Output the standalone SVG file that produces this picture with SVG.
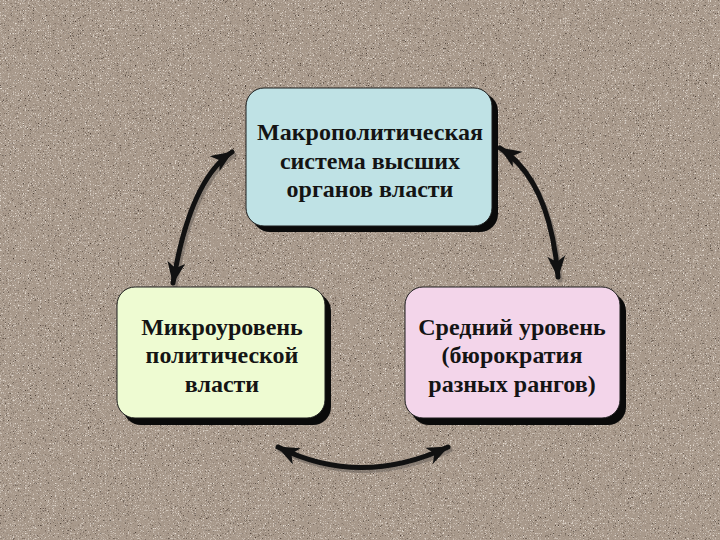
<svg xmlns="http://www.w3.org/2000/svg" width="720" height="540" viewBox="0 0 720 540">
<defs>
<style>
.box{stroke:#1a1a1a;stroke-width:1}
.shadow{fill:#0a0a0a}
.txt{font-family:"Liberation Serif","Times New Roman",serif;font-size:24px;font-weight:bold;fill:#141414;text-anchor:middle}
.arr{fill:none;stroke:#111;stroke-width:5;stroke-linecap:round;marker-start:url(#ah);marker-end:url(#ah)}
.arrsh{fill:none;stroke:#6e665f;stroke-width:5;stroke-linecap:round;opacity:0.6}
</style>
<marker id="ah" markerUnits="userSpaceOnUse" viewBox="0 0 22 18" refX="21" refY="9" markerWidth="22" markerHeight="18" orient="auto-start-reverse">
<path d="M0,0 L22,9 L0,18 L6,9 z" fill="#111"/>
</marker>
<filter id="grain" x="0" y="0" width="100%" height="100%">
<feTurbulence type="turbulence" baseFrequency="1.4" numOctaves="1" seed="5" result="n"/>
<feColorMatrix in="n" type="matrix" values="0 0 0 0 0  0 0 0 0 0  0 0 0 0 0  0 3 0 0 -0.9" result="dark"/>
<feFlood flood-color="#3a2f28" result="c1"/>
<feComposite in="c1" in2="dark" operator="in" result="d"/>
<feColorMatrix in="n" type="matrix" values="0 0 0 0 0  0 0 0 0 0  0 0 0 0 0  0 0 3 0 -0.75" result="light"/>
<feFlood flood-color="#f5eee6" result="c2"/>
<feComposite in="c2" in2="light" operator="in" result="l"/>
<feMerge><feMergeNode in="d"/><feMergeNode in="l"/></feMerge>
</filter>
</defs>
<rect width="720" height="540" fill="#a8998b"/>
<rect width="720" height="540" fill="#000" filter="url(#grain)" opacity="0.8"/>

<g id="connectors">
<path class="arrsh" d="M234,155 Q192,183 175,286"/>
<path class="arr" d="M232,152 Q190,180 173,283"/>
<path class="arrsh" d="M502,151 Q552,183 560,280"/>
<path class="arr" d="M500,148 Q550,180 558,277"/>
<path class="arrsh" d="M280,450 Q362,491 450,450"/>
<path class="arr" d="M278,447 Q360,488 448,447"/>
</g>

<g id="node-top">
<rect class="shadow" x="252" y="93" width="246" height="139" rx="18"/>
<rect class="box" x="246" y="88" width="246" height="138" rx="18" fill="#bfe2e5"/>
<text class="txt" x="370" y="140">Макрополитическая</text>
<text class="txt" x="370" y="169">система высших</text>
<text class="txt" x="370" y="197">органов власти</text>
</g>

<g id="node-left">
<rect class="shadow" x="123" y="293" width="208" height="132" rx="18"/>
<rect class="box" x="117" y="287" width="208" height="131" rx="18" fill="#eefbd2"/>
<text class="txt" x="222" y="335">Микроуровень</text>
<text class="txt" x="222" y="363">политической</text>
<text class="txt" x="222" y="392">власти</text>
</g>

<g id="node-right">
<rect class="shadow" x="411" y="293" width="215" height="132" rx="18"/>
<rect class="box" x="405" y="287" width="215" height="131" rx="18" fill="#f3d5ea"/>
<text class="txt" x="512" y="335">Средний уровень</text>
<text class="txt" x="512" y="363">(бюрократия</text>
<text class="txt" x="512" y="392">разных рангов)</text>
</g>
</svg>
